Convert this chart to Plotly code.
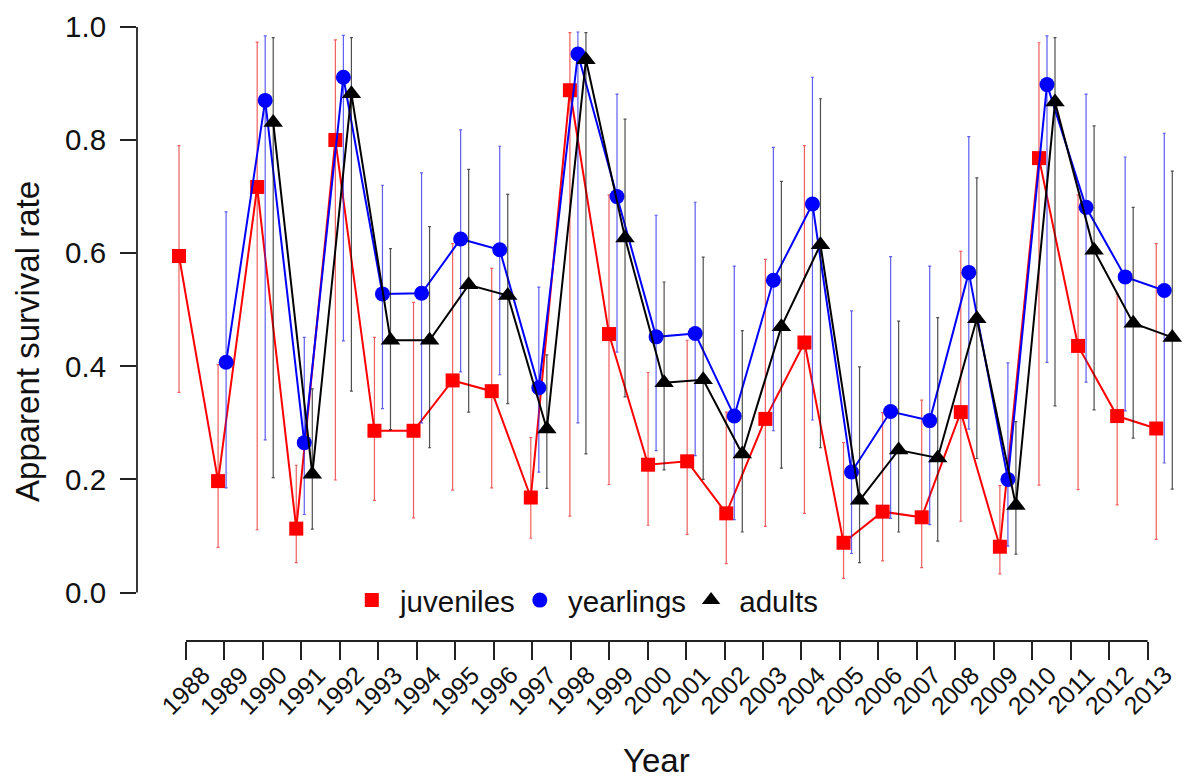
import numpy as np
import plotly.graph_objects as go

# ---------------- data ----------------
YEARS = list(range(1988, 2014))

juv_mean = [0.595, 0.197, 0.717, 0.113, 0.800, 0.286, 0.286, 0.375, 0.356, 0.168,
            0.888, 0.457, 0.226, 0.232, 0.140, 0.307, 0.442, 0.088, 0.143, 0.133,
            0.319, 0.081, 0.768, 0.436, 0.312, 0.290]
juv_low = [0.354, 0.080, 0.111, 0.053, 0.199, 0.163, 0.132, 0.181, 0.185, 0.096,
           0.135, 0.191, 0.119, 0.103, 0.051, 0.117, 0.140, 0.025, 0.056, 0.044,
           0.126, 0.033, 0.190, 0.182, 0.155, 0.094]
juv_high = [0.790, 0.403, 0.973, 0.225, 0.977, 0.451, 0.513, 0.617, 0.573, 0.274,
            0.990, 0.703, 0.389, 0.446, 0.319, 0.589, 0.790, 0.265, 0.318, 0.340,
            0.603, 0.189, 0.972, 0.703, 0.528, 0.617]

yrl_mean = [None, 0.407, 0.870, 0.265, 0.911, 0.528, 0.529, 0.625, 0.606, 0.362,
            0.952, 0.700, 0.452, 0.458, 0.312, 0.552, 0.687, 0.213, 0.320, 0.304,
            0.566, 0.200, 0.898, 0.681, 0.558, 0.534]
yrl_low = [None, 0.185, 0.270, 0.138, 0.445, 0.325, 0.300, 0.390, 0.385, 0.213,
           0.300, 0.425, 0.251, 0.242, 0.129, 0.286, 0.305, 0.069, 0.131, 0.120,
           0.289, 0.082, 0.407, 0.372, 0.321, 0.229]
yrl_high = [None, 0.673, 0.984, 0.451, 0.985, 0.720, 0.742, 0.818, 0.789, 0.540,
            0.991, 0.881, 0.667, 0.690, 0.577, 0.787, 0.911, 0.498, 0.594, 0.577,
            0.806, 0.406, 0.984, 0.881, 0.770, 0.812]

adu_mean = [None, None, 0.831, 0.209, 0.882, 0.446, 0.446, 0.544, 0.525, 0.289,
            0.942, 0.627, 0.371, 0.376, 0.245, 0.470, 0.615, 0.163, 0.252, 0.238,
            0.484, 0.154, 0.867, 0.605, 0.476, 0.451]
adu_low = [None, None, 0.203, 0.112, 0.356, 0.288, 0.256, 0.319, 0.334, 0.184,
           0.245, 0.346, 0.217, 0.200, 0.107, 0.220, 0.256, 0.053, 0.107, 0.091,
           0.237, 0.068, 0.330, 0.323, 0.273, 0.183]
adu_high = [None, None, 0.981, 0.360, 0.981, 0.608, 0.647, 0.748, 0.704, 0.420,
            0.990, 0.837, 0.549, 0.593, 0.463, 0.727, 0.873, 0.399, 0.480, 0.486,
            0.733, 0.302, 0.981, 0.825, 0.681, 0.745]

Y_TICKS = [0.0, 0.2, 0.4, 0.6, 0.8, 1.0]
Y_TICK_LABELS = ["0.0", "0.2", "0.4", "0.6", "0.8", "1.0"]

# ---------------- layout constants ----------------
FONT = "Liberation Sans, Arial, sans-serif"
W, H = 1200, 778
ML, MR, MT, MB = 137, 10, 10, 137
SERIES_SHIFT = [0.0, 0.205, 0.41]       # dodge of the three age classes
TICK_START, TICK_STEP = 0.179, 0.984     # axis tick placement (index units)
X_RANGE = [-1.0745, 25.8635]
Y_RANGE = [-0.08566, 1.01748]


def arr(v):
    return np.array([np.nan if a is None else a for a in v], dtype=float)


idx = np.arange(len(YEARS), dtype=float)
tickvals = TICK_START + TICK_STEP * idx

series = [
    ("juveniles", juv_mean, juv_low, juv_high, "#ff0000", "rgba(235,40,40,0.75)", "square", 14),
    ("yearlings", yrl_mean, yrl_low, yrl_high, "#0000ff", "rgba(40,40,235,0.75)", "circle", 15),
    ("adults", adu_mean, adu_low, adu_high, "#000000", "rgba(20,20,20,0.75)", "triangle-up", 17),
]

fig = go.Figure()
for k, (name, m, lo, hi, col, ecol, sym, size) in enumerate(series):
    m, lo, hi = arr(m), arr(lo), arr(hi)
    ok = ~np.isnan(m)
    x = idx[ok] + SERIES_SHIFT[k]
    fig.add_trace(go.Scatter(
        x=x, y=m[ok], mode="lines+markers", name=name, showlegend=False,
        line=dict(color=col, width=2),
        marker=dict(symbol=sym, size=size, color=col, line=dict(width=0)),
        error_y=dict(type="data", symmetric=False, array=(hi - m)[ok],
                     arrayminus=(m - lo)[ok], color=ecol, thickness=1.2, width=1.5),
        cliponaxis=False,
    ))

for k, (name, m, lo, hi, col, ecol, sym, size) in enumerate(series):
    fig.add_trace(go.Scatter(
        x=[None], y=[None], mode="markers", name=" " + name, showlegend=True,
        marker=dict(symbol=sym, size=size, color=col, line=dict(width=0)),
    ))

# axis lines spanning only the tick range (R style)
shapes = [
    dict(type="line", xref="x", yref="paper", x0=tickvals[0], x1=tickvals[-1], y0=0, y1=0,
         line=dict(color="#222222", width=1.8)),
    dict(type="line", xref="paper", yref="y", x0=0, x1=0, y0=Y_TICKS[0], y1=Y_TICKS[-1],
         line=dict(color="#222222", width=1.8)),
]

annotations = []
for tv, yr in zip(tickvals, YEARS):
    annotations.append(dict(
        x=tv, xref="x", y=-0.079, yref="paper", text=str(yr), textangle=-45,
        showarrow=False, xanchor="center", yanchor="middle",
        font=dict(family=FONT, size=25, color="#111111"),
    ))
annotations.append(dict(
    x=0.4938, xref="paper", y=-0.1918, yref="paper", text="Year", showarrow=False,
    xanchor="center", yanchor="middle", font=dict(family=FONT, size=33, color="#111111"),
))
annotations.append(dict(
    x=-0.1035, xref="paper", y=0.443, yref="y", text="Apparent survival rate",
    textangle=-90, showarrow=False, xanchor="center", yanchor="middle",
    font=dict(family=FONT, size=33, color="#111111"),
))

fig.update_layout(
    width=W, height=H,
    margin=dict(l=ML, r=MR, t=MT, b=MB, pad=0),
    paper_bgcolor="white", plot_bgcolor="white",
    font=dict(family=FONT, size=29.5, color="#111111"),
    shapes=shapes, annotations=annotations,
    legend=dict(orientation="h", x=0.204, xanchor="left", y=0.065, yanchor="middle",
                bgcolor="rgba(0,0,0,0)", font=dict(family=FONT, size=29.5),
                itemclick=False),
    xaxis=dict(range=X_RANGE, tickvals=list(tickvals), ticks="outside", ticklen=18,
               tickwidth=1.8, tickcolor="#222222", showticklabels=False,
               showgrid=False, zeroline=False, showline=False),
    yaxis=dict(range=Y_RANGE, tickvals=Y_TICKS, ticktext=Y_TICK_LABELS, ticks="outside",
               ticklen=16, tickwidth=1.8, tickcolor="#222222", showgrid=False,
               zeroline=False, showline=False, ticklabelstandoff=8,
               tickfont=dict(family=FONT, size=29.5, color="#111111")),
)

fig.write_html("out.html", config={"displayModeBar": False},
               post_script="document.body.style.margin='0px';")
